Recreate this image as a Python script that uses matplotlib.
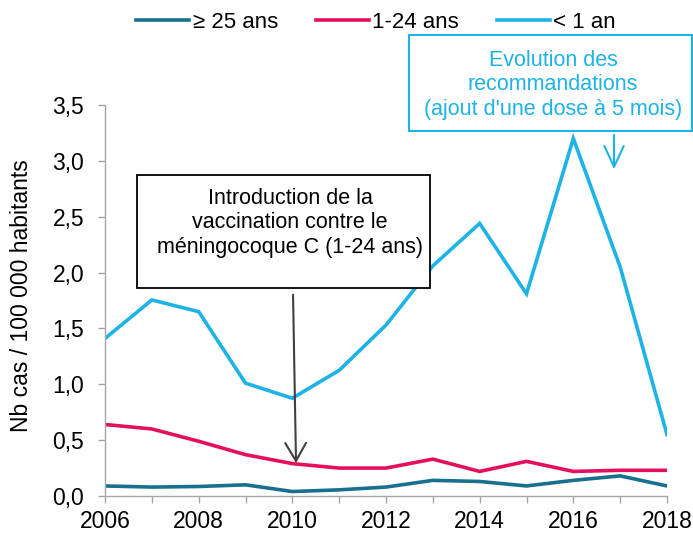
import matplotlib
matplotlib.use("Agg")
import matplotlib.pyplot as plt
from matplotlib.patches import Rectangle
from matplotlib.ticker import FuncFormatter, MultipleLocator

plt.rcParams['font.family'] = ['Liberation Sans', 'DejaVu Sans']

years = list(range(2006, 2019))
adults = [0.09, 0.08, 0.085, 0.10, 0.04, 0.055, 0.08, 0.14, 0.13, 0.09, 0.14, 0.18, 0.09]
young = [0.64, 0.60, 0.49, 0.37, 0.29, 0.25, 0.25, 0.33, 0.22, 0.31, 0.22, 0.23, 0.23]
infants = [1.41, 1.755, 1.65, 1.01, 0.875, 1.125, 1.53, 2.06, 2.44, 1.81, 3.20, 2.05, 0.55]
labels = ["\u2265 25 ans", "1-24 ans", "< 1 an"]
colors = ["#17708F", "#E5105C", "#1DB3E6"]

W, H = 693, 535
fig = plt.figure(figsize=(W / 100, H / 100), dpi=100)
ax = fig.add_axes([105 / W, 1 - 496 / H, (667 - 105) / W, (496 - 105) / H])

for vals, lab, c in zip([adults, young, infants], labels, colors):
    ax.plot(years, vals, color=c, lw=2.6, label=lab, solid_joinstyle='miter')

ax.set_xlim(2006, 2018)
ax.set_ylim(0, 3.5)
ax.xaxis.set_major_locator(MultipleLocator(1))
ax.xaxis.set_major_formatter(FuncFormatter(lambda v, p: str(int(v)) if int(v) % 2 == 0 else ""))
ax.yaxis.set_major_locator(MultipleLocator(0.5))
ax.yaxis.set_major_formatter(FuncFormatter(lambda v, p: f"{v:.1f}".replace(".", ",")))
for s in ["top", "right"]:
    ax.spines[s].set_visible(False)
for s in ["left", "bottom"]:
    ax.spines[s].set_color("#A6A6A6")
    ax.spines[s].set_linewidth(1.0)
ax.tick_params(axis='both', colors="#A6A6A6", labelcolor="black", labelsize=16.5, length=5, width=1)
ax.tick_params(axis='y', pad=10)
ax.tick_params(axis='x', pad=5)

fig.text(22 / W, 1 - 296 / H, "Nb cas / 100 000 habitants", rotation=90,
         ha='center', va='center', fontsize=16.5)

fig.legend(loc='center', bbox_to_anchor=(376 / W, 1 - 22 / H), ncol=3, frameon=False,
           fontsize=16, handlelength=2.4, handletextpad=0.15, columnspacing=1.7)


def px(x, y):
    return (x / W, 1 - y / H)


# black annotation box
bx0, by0, bx1, by1 = 137, 175, 430, 288
fig.patches.append(Rectangle(px(bx0, by1), (bx1 - bx0) / W, (by1 - by0) / H, transform=fig.transFigure,
                             facecolor='white', edgecolor='black', lw=1.3, zorder=5))
fig.text(*px(290, 223), "Introduction de la\nvaccination contre le\nméningocoque C (1-24 ans)",
         ha='center', va='center', fontsize=15.5, linespacing=1.25, zorder=6)
ax.annotate('', xy=(2010.08, 0.27), xycoords='data', xytext=(293, H - 292), textcoords='figure pixels',
            arrowprops=dict(arrowstyle='->,head_length=1.3,head_width=0.75', color='#404040', lw=1.5),
            zorder=7, annotation_clip=False)

# cyan annotation box
cx0, cy0, cx1, cy1 = 409, 35, 692, 131
fig.patches.append(Rectangle(px(cx0, cy1), (cx1 - cx0) / W, (cy1 - cy0) / H, transform=fig.transFigure,
                             facecolor='white', edgecolor=colors[2], lw=1.5, zorder=5))
fig.text(*px(553, 85), "Evolution des\nrecommandations\n(ajout d'une dose à 5 mois)",
         ha='center', va='center', fontsize=15.5, linespacing=1.2, color=colors[2], zorder=6)
ax.annotate('', xy=(2016.87, 2.9), xycoords='data', xytext=(614, H - 132), textcoords='figure pixels',
            arrowprops=dict(arrowstyle='->,head_length=1.5,head_width=0.7', color=colors[2], lw=1.5),
            zorder=7, annotation_clip=False)

fig.savefig("out.png", dpi=100)
